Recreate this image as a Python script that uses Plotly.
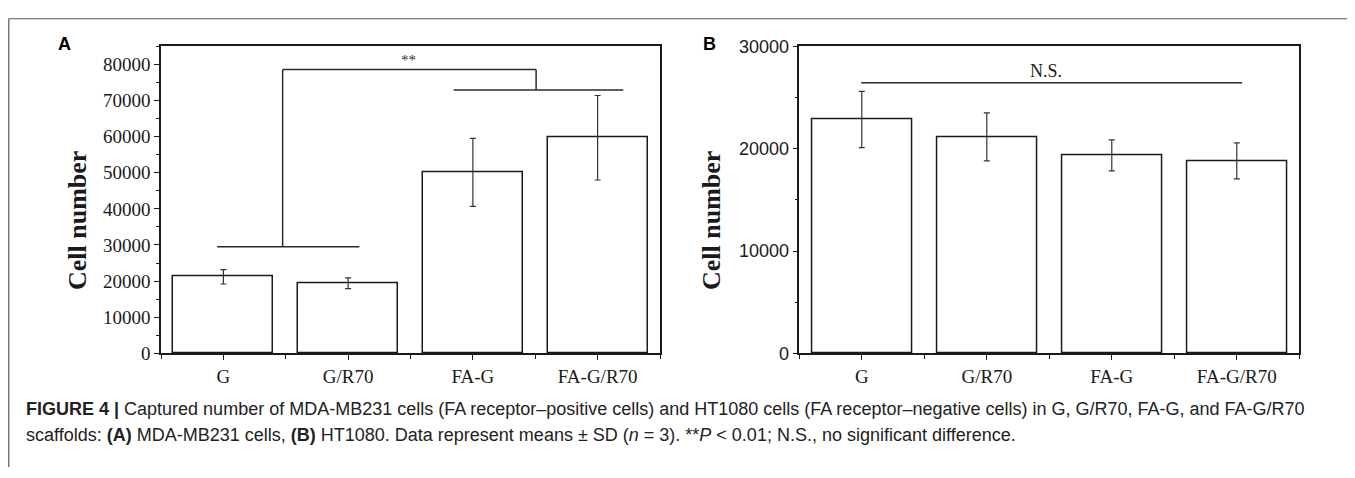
import plotly.graph_objects as go

# ---------------- data ----------------
categories = ["G", "G/R70", "FA-G", "FA-G/R70"]
a_means = [21200, 19400, 50100, 59700]
a_sd = [2000, 1500, 9400, 11700]
b_means = [22850, 21150, 19350, 18800]
b_sd = [2750, 2350, 1520, 1760]
a_yticks = [0, 10000, 20000, 30000, 40000, 50000, 60000, 70000, 80000]
b_yticks = [0, 10000, 20000, 30000]
# significance bracket levels (data units)
a_low_level = 29500
a_top_level = 78600
a_high_level = 72900
b_ns_level = 26450

# The page body keeps its default 8px margin (the figure starts at 8,8 in the
# window), so the figure is sized to end exactly at the window's right/bottom edge.
VW, VH = 1355, 478
OFF = 8
W, H = VW - OFF, VH - OFF
def px(x):
    return (x - OFF) / W
def py(y):
    return 1 - (y - OFF) / H

xi = list(range(len(categories)))
SERIF = "Liberation Serif, Times New Roman, serif"
SANS = "Liberation Sans, Arial, sans-serif"
INK = "#1a1a1a"

fig = go.Figure()
fig.add_trace(go.Bar(
    x=xi, y=a_means, width=0.8, xaxis="x", yaxis="y",
    marker=dict(color="white", line=dict(color=INK, width=1.5)),
    error_y=dict(type="data", array=a_sd, visible=True, color="#333", thickness=1.2, width=3),
    showlegend=False, hoverinfo="skip"))
fig.add_trace(go.Bar(
    x=xi, y=b_means, width=0.8, xaxis="x2", yaxis="y2",
    marker=dict(color="white", line=dict(color=INK, width=1.5)),
    error_y=dict(type="data", array=b_sd, visible=True, color="#333", thickness=1.2, width=3),
    showlegend=False, hoverinfo="skip"))

ydom = [py(359), py(37.7)]
common_x = dict(
    range=[-0.5, 3.5], tickmode="array", tickvals=xi, ticktext=categories,
    showline=True, mirror=True, linecolor=INK, linewidth=1.5,
    ticks="outside", ticklen=5, tickwidth=1.2, tickcolor=INK,
    minor=dict(tickmode="array", tickvals=[-0.5, 0.5, 1.5, 2.5, 3.5],
               ticks="outside", ticklen=4, tickwidth=1.2, tickcolor=INK),
    tickfont=dict(family=SERIF, size=19, color=INK),
    showgrid=False, zeroline=False, fixedrange=True)
common_y = dict(
    showline=True, mirror=True, linecolor=INK, linewidth=1.5,
    ticks="outside", ticklen=5, tickwidth=1.2, tickcolor=INK,
    minor=dict(dtick=5000, ticks="outside", ticklen=3, tickwidth=1.2, tickcolor=INK),
    showgrid=False, zeroline=False, fixedrange=True)

fig.update_layout(
    width=W, height=H, margin=dict(l=0, r=0, t=0, b=0),
    paper_bgcolor="white", plot_bgcolor="white",
    bargap=0, showlegend=False,
    xaxis=dict(domain=[px(161), px(660)], anchor="y", **common_x),
    yaxis=dict(domain=ydom, anchor="x", range=[0, 85000], tickmode="array",
               tickvals=a_yticks, ticktext=[str(v) for v in a_yticks],
               tickfont=dict(family=SERIF, size=19, color=INK), **common_y),
    xaxis2=dict(domain=[px(799.3), px(1299.3)], anchor="y2", **common_x),
    yaxis2=dict(domain=ydom, anchor="x2", range=[0, 30000], tickmode="array",
                tickvals=b_yticks, ticktext=[str(v) for v in b_yticks],
                tickfont=dict(family=SANS, size=18, color=INK), **common_y),
)

shapes = []
line = dict(color="#2a2a2a", width=1.5)
def seg(xr, yr, x0, y0, x1, y1):
    shapes.append(dict(type="line", xref=xr, yref=yr, x0=x0, y0=y0, x1=x1, y1=y1, line=line))

# panel A brackets
seg("x", "y", xi[0] - 0.05, a_low_level, xi[1] + 0.09, a_low_level)
seg("x", "y", 0.475, a_low_level, 0.475, a_top_level)
seg("x", "y", 0.475, a_top_level, 2.507, a_top_level)
seg("x", "y", 2.507, a_top_level, 2.507, a_high_level)
seg("x", "y", xi[2] - 0.154, a_high_level, xi[3] + 0.206, a_high_level)
# panel B N.S. line
seg("x2", "y2", xi[0] - 0.005, b_ns_level, xi[3] + 0.043, b_ns_level)

# outer frame (top + left)
frame = dict(color="#555", width=1.2)
shapes.append(dict(type="line", xref="paper", yref="paper", x0=px(8.8), y0=py(8.8), x1=1, y1=py(8.8), line=frame))
shapes.append(dict(type="line", xref="paper", yref="paper", x0=px(8.8), y0=py(8.8), x1=px(8.8), y1=0, line=frame))
fig.update_layout(shapes=shapes)

ann = []
ann.append(dict(x=1.486, y=81300, xref="x", yref="y", text="**", showarrow=False,
                font=dict(family=SERIF, size=15, color="#333"), xanchor="center", yanchor="middle"))
ann.append(dict(x=1.47, y=27600, xref="x2", yref="y2", text="N.S.", showarrow=False,
                font=dict(family=SERIF, size=18, color=INK), xanchor="center", yanchor="middle"))
for xc in (77.5, 711.5):
    ann.append(dict(x=px(xc), y=py(220), xref="paper", yref="paper", text="<b>Cell number</b>",
                    textangle=-90, showarrow=False, xanchor="center", yanchor="middle",
                    font=dict(family=SERIF, size=26, color=INK)))
ann.append(dict(x=px(64), y=py(35.5), xref="paper", yref="paper", text="<b>A</b>", showarrow=False,
                xanchor="center", yanchor="middle", font=dict(family=SANS, size=18, color="black")))
ann.append(dict(x=px(710), y=py(35), xref="paper", yref="paper", text="<b>B</b>", showarrow=False,
                xanchor="center", yanchor="middle", font=dict(family=SANS, size=18, color="black")))

cap1 = ("<b>FIGURE 4 |</b> Captured number of MDA-MB231 cells (FA receptor\u2013positive cells) and "
        "HT1080 cells (FA receptor\u2013negative cells) in G, G/R70, FA-G, and FA-G/R70")
cap2 = ("scaffolds: <b>(A)</b> MDA-MB231 cells, <b>(B)</b> HT1080. Data represent means \u00b1 SD "
        "(<i>n</i> = 3). **<i>P</i> &lt; 0.01; N.S., no significant difference.")
ann.append(dict(x=px(24), y=py(417), xref="paper", yref="paper", text=cap1, showarrow=False,
                xanchor="left", yanchor="middle", font=dict(family=SANS, size=18, color="#222")))
ann.append(dict(x=px(24), y=py(445), xref="paper", yref="paper", text=cap2, showarrow=False,
                xanchor="left", yanchor="middle", font=dict(family=SANS, size=18, color="#222")))
fig.update_layout(annotations=ann)

fig.write_html("out.html")
